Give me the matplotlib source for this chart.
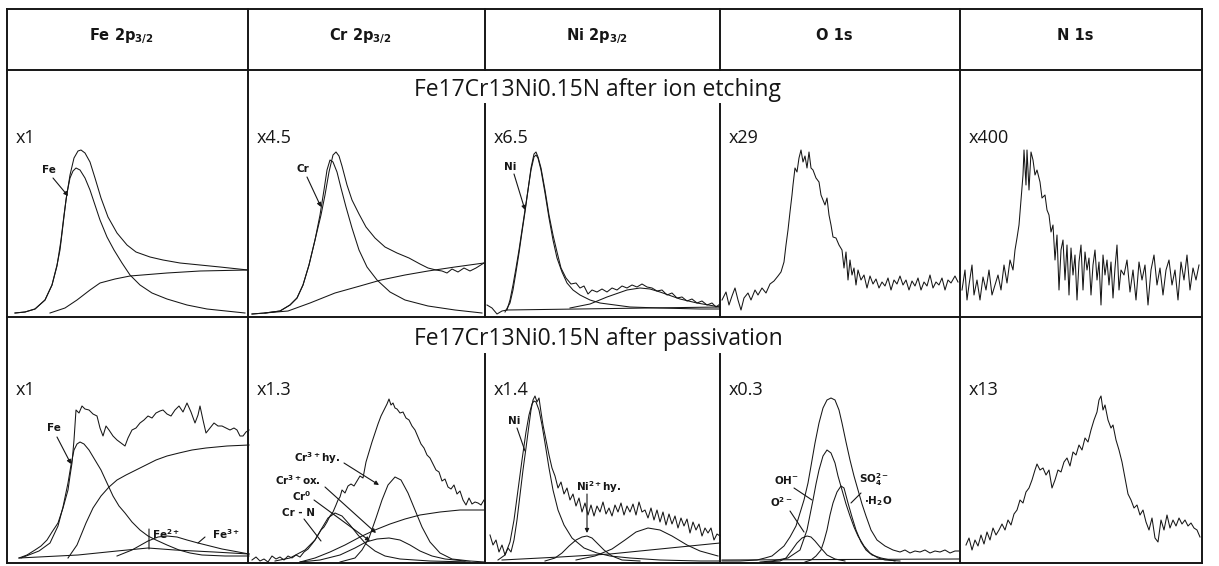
import numpy as np
import matplotlib.pyplot as plt
from matplotlib.lines import Line2D

plt.rcParams['mathtext.default'] = 'regular'

W, H = 1219, 566
INK = '#161616'

# table layout (pixels of the scanned figure)
col_edges = [7, 248, 485, 720, 960, 1202]
row_edges = [9, 70, 317, 563]
inner_start = [104, 354]          # where the Cr/Ni and Ni/O rules begin in each row

headers = [r'Fe 2p$_{3/2}$', r'Cr 2p$_{3/2}$', r'Ni 2p$_{3/2}$', 'O 1s', 'N 1s']
row_titles = ['Fe17Cr13Ni0.15N after ion etching', 'Fe17Cr13Ni0.15N after passivation']
etch_scales = ['x1', 'x4.5', 'x6.5', 'x29', 'x400']
pass_scales = ['x1', 'x1.3', 'x1.4', 'x0.3', 'x13']

# ---- spectra after ion etching: (channel, intensity) ----
etch_fe_env = [(8,4),(18,5),(28,8),(38,17),(45,32),(50,52),(53,67),(56,92),(59,117),(63,142),(67,159),
               (71,166),(74,167),(78,164),(83,155),(88,139),(94,119),(101,100),(110,84),(120,72),(129,65),
               (143,60),(156,57),(173,54),(193,52),(213,50),(241,47)]
etch_fe_comp = [(8,4),(18,5),(28,8),(38,17),(45,32),(50,51),(54,77),(57,102),(60,124),(63,139),(66,146),
                (69,149),(73,147),(78,139),(83,127),(88,112),(93,97),(100,80),(107,67),(115,54),(123,42),
                (133,32),(145,24),(160,18),(180,12),(200,8),(238,4)]
etch_fe_bg = [(43,4),(58,9),(70,17),(83,27),(93,34),(108,38),(123,41),(160,44),(193,46),(241,47)]

etch_cr_env = [(4,3),(17,4),(32,6),(42,12),(49,19),(55,32),(61,52),(67,77),(73,102),(77,122),(81,145),
               (85,162),(88,165),(91,161),(94,151),(99,132),(104,117),(111,103),(118,90),(127,79),(137,70),
               (149,64),(161,59),(172,53),(180,49),(188,47),(194,46),(199,44),(204,48),(210,45),(216,49),
               (222,46),(228,49),(236,54)]
etch_cr_comp = [(4,3),(17,4),(32,6),(42,12),(49,19),(55,32),(61,52),(67,77),(72,102),(76,127),(79,147),
                (82,157),(85,155),(89,145),(93,129),(98,110),(104,89),(111,67),(119,50),(129,37),(142,25),
                (157,17),(180,11),(207,7),(234,4)]
etch_cr_bg = [(17,4),(40,6),(62,14),(87,24),(112,31),(133,37),(157,42),(180,46),(207,50),(236,54)]

etch_ni_env = [(2,12),(7,9),(12,3),(17,6),(22,7),(25,17),(28,32),(31,49),(34,67),(37,87),(40,107),(43,127),
               (46,149),(49,163),(51,165),(53,160),(56,149),(60,127),(64,102),(68,82),(72,65),(76,49),(81,39),
               (86,33),(91,34),(95,29),(99,31),(103,23),(107,27),(112,25),(117,28),(122,25),(127,29),(132,27),
               (137,31),(142,29),(147,32),(152,30),(157,33),(162,30),(167,29),(172,26),(177,27),(182,22),
               (187,24),(192,19),(197,20),(202,16),(207,18),(212,14),(217,16),(222,12),(227,14),(231,10),(235,13)]
etch_ni_comp = [(20,5),(25,14),(28,27),(31,45),(34,64),(37,85),(40,105),(43,127),(46,147),(49,160),(51,162),
                (53,159),(56,147),(60,124),(64,99),(68,77),(72,59),(77,45),(82,34),(88,27),(95,22),(105,17),
                (115,14),(130,12),(145,10),(175,9),(215,8),(235,8)]
etch_ni_sat = [(85,9),(105,13),(122,20),(142,27),(155,29),(165,28),(175,25),(195,18),(212,14),(235,10)]
etch_ni_base = [(22,7),(235,10)]

etch_o_env = [(2,17),(6,25),(9,12),(12,21),(15,29),(18,17),(21,7),(24,19),(28,24),(31,17),(35,27),(38,22),
              (42,29),(46,24),(50,33),(54,36),(58,41),(61,45),(64,55),(66,72),(68,87),(70,105),(72,122),(73,132),
              (75,149),(77,145),(79,159),(81,167),(83,155),(85,161),(87,149),(89,165),(91,149),(93,147),(96,139),
              (99,135),(101,122),(103,117),(105,112),(107,119),(109,102),(111,92),(113,80),(116,79),(119,72),
              (122,67),(124,49),(126,65),(128,37),(130,57),(132,42),(134,49),(136,32),(138,47),(141,37),(144,42),
              (147,29),(150,41),(153,33),(156,38),(159,29),(162,35),(165,31),(168,39),(171,27),(174,37),(177,33),
              (180,41),(183,32),(186,37),(189,27),(192,36),(195,31),(198,39),(201,27),(204,35),(207,31),(210,42),
              (213,29),(216,35),(219,32),(222,39),(225,27),(228,37),(231,34),(235,41),(238,35)]

etch_n_env = [(2,27),(5,47),(7,17),(9,32),(12,52),(14,22),(17,37),(20,17),(23,40),(26,27),(29,47),(32,22),
              (35,32),(38,42),(41,27),(44,52),(47,34),(50,57),(53,47),(55,67),(57,79),(59,92),(61,117),(63,142),
              (64,167),(66,132),(67,167),(69,127),(71,165),(73,157),(75,142),(77,147),(80,135),(82,119),(85,122),
              (87,107),(89,102),(91,85),(93,92),(95,57),(97,82),(99,27),(101,67),(103,77),(105,37),(107,72),
              (109,22),(111,69),(113,42),(115,62),(117,17),(119,55),(121,72),(123,27),(125,65),(127,47),(129,59),
              (131,22),(133,52),(135,67),(137,37),(139,55),(141,12),(143,62),(145,42),(147,57),(149,32),(151,55),
              (153,19),(155,49),(157,72),(159,27),(161,47),(164,42),(167,57),(170,25),(173,47),(176,17),(179,55),
              (182,37),(185,52),(188,12),(191,47),(194,62),(197,32),(200,49),(203,22),(206,47),(209,57),(212,32),
              (215,47),(218,17),(221,55),(224,37),(227,62),(230,27),(233,49),(236,37),(239,52)]

# ---- spectra after passivation ----
pass_fe_env = [(12,5),(20,8),(28,13),(34,17),(40,23),(45,31),(51,40),(56,55),(61,73),(63,87),(65,100),(67,123),
               (69,153),(72,150),(75,157),(78,154),(82,153),(86,149),(90,147),(93,135),(96,127),(99,137),(102,133),
               (106,127),(110,123),(114,120),(118,117),(121,125),(125,133),(129,135),(133,140),(137,143),(141,147),
               (145,145),(149,150),(153,152),(156,153),(160,149),(164,147),(168,153),(172,157),(176,151),(180,160),
               (184,151),(188,140),(191,148),(193,157),(196,143),(199,130),(203,135),(207,140),(211,137),(215,137),
               (219,135),(223,133),(227,135),(230,133),(233,127),(236,127),(239,131),(242,133)]
pass_fe_comp = [(14,5),(32,12),(43,20),(51,37),(56,56),(61,80),(64,98),(67,113),(70,119),(73,121),(77,119),
                (82,113),(88,103),(94,93),(100,80),(106,67),(112,57),(118,50),(125,41),(133,33),(141,27),(149,23),
                (160,18),(172,13),(183,10),(195,8),(218,7),(242,7)]
pass_fe_bg = [(61,5),(70,18),(79,40),(86,55),(94,67),(102,76),(110,83),(119,88),(129,93),(139,98),(149,103),
              (160,107),(172,110),(185,113),(199,115),(220,117),(242,118)]
pass_fe2 = [(12,5),(71,8),(110,12),(141,15),(168,13),(207,11),(242,9)]
pass_fe3 = [(110,7),(125,13),(141,22),(151,26),(160,27),(170,26),(180,23),(191,20),(203,17),(215,14),(226,12),(242,9)]

pass_cr_env = [(4,3),(8,6),(12,2),(16,4),(20,1),(24,7),(28,4),(32,6),(36,3),(40,7),(44,5),(48,8),(52,6),(56,11),
               (60,14),(64,19),(67,23),(70,28),(73,33),(76,36),(79,41),(82,47),(85,51),(88,58),(90,63),(92,66),
               (94,73),(97,70),(100,77),(103,79),(106,77),(109,82),(112,87),(115,85),(118,101),(121,111),(124,121),
               (127,130),(130,139),(133,147),(136,153),(139,159),(141,164),(143,158),(145,160),(147,155),(149,154),
               (152,150),(155,151),(158,145),(161,143),(164,137),(167,133),(170,126),(173,119),(176,115),(179,108),
               (182,105),(185,99),(188,93),(191,91),(194,82),(197,84),(200,76),(203,74),(206,78),(209,69),(212,72),
               (215,63),(218,58),(221,65),(224,59),(227,61),(230,60),(233,58),(236,63)]
pass_cr_n = [(27,2),(42,5),(57,13),(67,23),(74,35),(80,45),(87,50),(94,47),(102,38),(110,28),(118,19),(127,12),
             (137,7),(152,4),(182,2),(222,1)]
pass_cr_ox = [(52,1),(72,3),(92,8),(107,15),(118,21),(129,24),(141,25),(152,23),(162,18),(172,12),(184,7),
              (197,4),(217,2)]
pass_cr_hy = [(92,1),(107,5),(114,13),(121,25),(128,45),(134,63),(140,78),(147,86),(153,83),(160,70),(167,53),
              (174,36),(182,21),(192,10),(204,4),(222,2),(237,1)]
pass_cr_bg = [(52,1),(67,5),(82,11),(97,18),(112,26),(127,33),(142,39),(157,44),(172,48),(192,51),(212,53),(236,53)]

pass_ni_env = [(5,28),(8,18),(11,23),(14,11),(17,18),(20,8),(23,15),(26,11),(29,23),(32,43),(35,68),(38,93),
               (41,115),(44,138),(46,153),(48,163),(50,167),(52,161),(54,165),(56,151),(58,138),(61,123),(64,108),
               (67,95),(70,87),(73,75),(76,81),(79,69),(82,75),(85,63),(88,69),(91,57),(94,65),(97,51),(100,60),
               (103,48),(106,58),(109,47),(112,57),(115,51),(118,61),(121,49),(124,55),(127,47),(130,58),(133,51),
               (136,60),(139,48),(142,57),(145,51),(148,59),(151,48),(154,61),(157,51),(160,53),(163,45),(166,55),
               (169,43),(172,53),(175,41),(178,51),(181,38),(184,49),(187,39),(190,47),(193,35),(196,45),(199,37),
               (202,44),(205,30),(208,41),(211,33),(214,39),(217,27),(220,35),(223,30),(226,35),(229,23),(232,29),
               (235,27)]
pass_ni_comp = [(13,3),(20,8),(25,21),(29,43),(33,73),(37,103),(41,131),(44,148),(47,159),(49,162),(51,161),
                (54,153),(57,138),(60,120),(64,95),(68,73),(73,53),(79,38),(87,25),(99,15),(112,10),(125,7),
                (145,5),(175,3),(215,2),(235,2)]
pass_ni2 = [(60,2),(70,5),(77,10),(84,17),(91,23),(97,26),(102,27),(107,25),(113,19),(119,13),(127,7),(137,3),(155,2)]
pass_ni_sat = [(91,3),(110,7),(127,14),(140,23),(151,31),(163,35),(175,33),(187,27),(202,18),(215,12),(233,7)]
pass_ni_base = [(17,3),(75,6),(125,9),(235,20)]

pass_o_env = [(2,2),(20,2),(37,3),(45,5),(52,7),(58,12),(64,17),(70,26),(76,37),(80,50),(84,63),(88,80),(91,97),
              (95,120),(99,140),(103,155),(107,163),(111,165),(115,163),(119,153),(122,140),(126,121),(130,103),
              (134,87),(138,73),(142,59),(146,47),(151,33),(157,23),(165,17),(173,13),(180,11),(185,13),(190,10),
              (195,12),(200,11),(205,13),(210,10),(215,12),(220,11),(225,13),(230,10),(235,12),(239,12)]
pass_o_oh = [(40,1),(52,2),(68,5),(80,13),(87,33),(90,48),(93,63),(96,79),(99,93),(103,107),(107,113),(111,110),
             (115,100),(118,87),(122,73),(126,59),(130,47),(134,36),(138,27),(144,17),(150,10),(158,5),(165,3),(180,2)]
pass_o_so4 = [(85,1),(91,3),(96,7),(101,13),(104,22),(107,33),(110,48),(113,60),(117,71),(121,77),(124,75),
              (128,60),(132,46),(136,33),(141,21),(146,13),(152,8),(161,5),(175,2)]
pass_o_o2 = [(45,1),(60,2),(66,5),(72,13),(77,20),(82,25),(87,27),(91,26),(95,22),(100,16),(107,8),(115,4),(125,2)]
pass_o_base = [(2,3),(239,4)]

pass_n_env = [(6,18),(9,25),(12,13),(15,23),(18,17),(21,28),(24,19),(27,31),(30,23),(33,35),(36,28),(39,33),
              (42,39),(45,33),(48,43),(51,38),(54,49),(57,53),(60,63),(63,60),(66,71),(69,75),(72,83),(75,93),
              (77,99),(80,93),(83,95),(86,88),(89,93),(92,75),(95,83),(98,93),(101,91),(104,101),(107,105),
              (110,97),(113,111),(116,108),(119,118),(122,113),(125,125),(128,121),(131,133),(134,143),(137,151),
              (139,163),(141,167),(143,153),(145,158),(148,143),(151,135),(153,138),(156,123),(159,113),(162,101),
              (165,85),(168,69),(171,63),(174,55),(177,58),(180,48),(183,53),(186,41),(189,33),(192,45),(195,25),
              (198,21),(201,43),(204,33),(207,48),(210,35),(213,43),(216,37),(219,45),(222,39),(225,43),(228,37),
              (231,40),(234,35),(237,33),(240,26)]

etch_curves = [[etch_fe_env, etch_fe_comp, etch_fe_bg],
               [etch_cr_env, etch_cr_comp, etch_cr_bg],
               [etch_ni_env, etch_ni_comp, etch_ni_sat, etch_ni_base],
               [etch_o_env],
               [etch_n_env]]
pass_curves = [[pass_fe_env, pass_fe_comp, pass_fe_bg, pass_fe2, pass_fe3],
               [pass_cr_env, pass_cr_n, pass_cr_ox, pass_cr_hy, pass_cr_bg],
               [pass_ni_env, pass_ni_comp, pass_ni2, pass_ni_sat, pass_ni_base],
               [pass_o_env, pass_o_oh, pass_o_so4, pass_o_o2, pass_o_base],
               [pass_n_env]]


def fx(px):
    return px / W


def fy(py):
    return 1 - py / H


fig = plt.figure(figsize=(W / 100, H / 100), dpi=100)

# table rules
def rule(x0, y0, x1, y1, lw=1.4):
    fig.add_artist(Line2D([fx(x0), fx(x1)], [fy(y0), fy(y1)], color=INK, lw=lw))

for y in row_edges:
    rule(col_edges[0], y, col_edges[-1], y)
for x in col_edges:
    rule(x, row_edges[0], x, row_edges[1])
for r in range(2):
    top, bot = row_edges[r + 1], row_edges[r + 2]
    for i, x in enumerate(col_edges):
        start = inner_start[r] if i in (2, 3) else top
        rule(x, start, x, bot)

# header row
for i, h in enumerate(headers):
    cx = (col_edges[i] + col_edges[i + 1]) / 2 - 6
    fig.text(fx(cx), fy(36), h, ha='center', va='center', fontsize=10.5,
             fontweight='bold', family='DejaVu Sans', color=INK)

title_y = [90, 339]
for r, t in enumerate(row_titles):
    fig.text(fx(598), fy(title_y[r]), t, ha='center', va='center', fontsize=16.5,
             family='Open Sans', color=INK)

# spectra panels
panels = {}
for r, curves_row in enumerate([etch_curves, pass_curves]):
    top, bot = row_edges[r + 1], row_edges[r + 2]
    scales = etch_scales if r == 0 else pass_scales
    for c, curves in enumerate(curves_row):
        left, right = col_edges[c], col_edges[c + 1]
        ax = fig.add_axes([fx(left), fy(bot), (right - left) / W, (bot - top) / H])
        ax.set_xlim(0, right - left)
        ax.set_ylim(0, bot - top)
        ax.axis('off')
        for cv in curves:
            xs, ys = zip(*cv)
            ax.plot(xs, ys, color=INK, lw=0.75, clip_on=False)
        ax.text(9, 179 if r == 0 else 173, scales[c], fontsize=13, family='Open Sans',
                ha='left', va='center', color=INK)
        panels[(r, c)] = ax

small = dict(fontsize=7.5, fontweight='bold', color=INK, ha='center', va='center', family='DejaVu Sans')
arrow = dict(arrowstyle='-|>', color=INK, lw=0.8, mutation_scale=6, shrinkA=0, shrinkB=0)
line = dict(arrowstyle='-', color=INK, lw=0.8, shrinkA=0, shrinkB=0)


def tip(ax, start, end, style=arrow):
    ax.annotate('', xy=end, xytext=start, arrowprops=style)


ax = panels[(0, 0)]
ax.text(42, 147, 'Fe', **small)
tip(ax, (46, 139), (61, 121))
ax = panels[(0, 1)]
ax.text(55, 148, 'Cr', **small)
tip(ax, (59, 140), (73, 110))
ax = panels[(0, 2)]
ax.text(25, 150, 'Ni', **small)
tip(ax, (29, 143), (40, 107))

ax = panels[(1, 0)]
ax.text(47, 135, 'Fe', **small)
tip(ax, (50, 126), (64, 99))
ax.text(145, 29, r'Fe$^{2+}$', **dict(small, ha='left'))
tip(ax, (142, 34), (142, 14), line)
ax.text(205, 29, r'Fe$^{3+}$', **dict(small, ha='left'))
tip(ax, (191, 20), (198, 26), line)

ax = panels[(1, 1)]
ax.text(69, 105, r'Cr$^{3+}$hy.', **small)
tip(ax, (96, 100), (131, 78))
ax.text(50, 83, r'Cr$^{3+}$ox.', **small)
tip(ax, (77, 76), (128, 30))
ax.text(54, 67, r'Cr$^{0}$', **small)
tip(ax, (66, 63), (122, 22))
ax.text(50, 50, 'Cr - N', **small)
tip(ax, (56, 44), (73, 22), line)

ax = panels[(1, 2)]
ax.text(29, 142, 'Ni', **small)
tip(ax, (32, 135), (40, 112), line)
ax.text(91, 76, r'Ni$^{2+}$hy.', **dict(small, ha='left'))
tip(ax, (102, 69), (102, 30))

ax = panels[(1, 3)]
ax.text(66, 83, r'OH$^{-}$', **small)
tip(ax, (74, 75), (92, 63), line)
ax.text(61, 61, r'O$^{2-}$', **small)
tip(ax, (70, 52), (84, 31), line)
ax.text(154, 83, r'SO$_4^{2-}$', **small)
ax.text(158, 62, r'$\cdot$H$_2$O', **small)
tip(ax, (141, 70), (131, 60), line)

fig.savefig('out.png', dpi=100, facecolor='white')
